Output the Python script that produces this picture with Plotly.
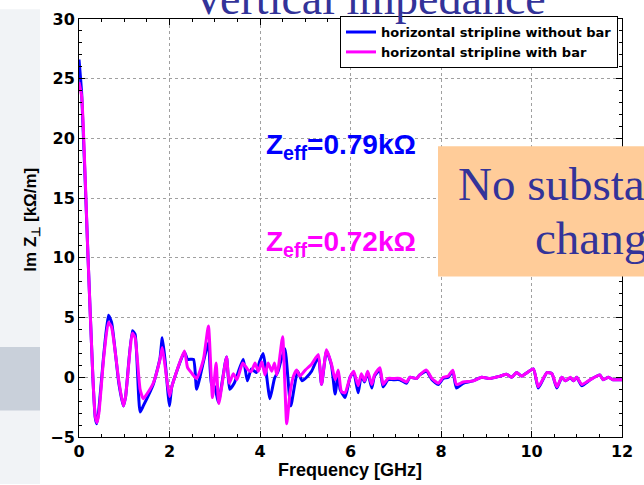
import plotly.graph_objects as go

# ---- data ----
f_without = [0.0, 0.06, 0.2, 0.31, 0.36, 0.39, 0.43, 0.55, 0.65, 0.72, 0.88, 0.98, 1.03, 1.18, 1.24,
             1.35, 1.42, 1.64, 1.79, 1.84, 1.9, 2.0, 2.05, 2.33, 2.4, 2.53, 2.6, 2.75, 2.86, 2.93,
             3.0, 3.08, 3.26, 3.33, 3.43, 3.63, 3.72, 3.81, 3.92, 3.99, 4.07, 4.13, 4.22, 4.32,
             4.4, 4.45, 4.55, 4.68, 4.83, 4.93, 5.03, 5.14, 5.29, 5.36, 5.47, 5.58, 5.66, 5.73,
             5.77, 5.88, 5.99, 6.07, 6.17, 6.24, 6.31, 6.38, 6.47, 6.53, 6.65, 6.72, 6.83, 6.94,
             7.09, 7.24, 7.31, 7.46, 7.53, 7.68, 7.8, 7.94, 8.05, 8.16, 8.26, 8.34, 8.49, 8.71,
             8.9, 9.09, 9.31, 9.45, 9.56, 9.67, 9.78, 10.04, 10.15, 10.34, 10.45, 10.56, 10.67,
             10.75, 10.86, 10.93, 11.0, 11.11, 11.3, 11.51, 11.58, 11.7, 11.8, 12.0]
z_without = [26.6, 23.7, 10.0, -0.3, -3.4, -3.9, -3.0, 2.0, 5.2, 4.6, -0.5, -2.4, -1.6, 3.9, 3.6,
             -2.9, -2.4, -0.6, 1.6, 3.3, 1.5, -2.4, -0.8, 2.1, 1.5, 1.5, -1.0, 1.3, 2.9, -0.6,
             -0.8, -2.1, 1.7, -1.0, -0.5, 1.5, -0.3, 0.7, 0.4, 1.3, 2.0, 0.6, -1.8, -0.1,
             0.5, 1.2, 2.4, -2.4, 0.5, -0.3, 0.0, 0.5, 1.7, -0.6, 2.2, 1.0, -1.4, 0.4,
             -1.0, -1.7, 0.0, 0.4, -1.3, 0.2, -0.4, 0.4, -0.9, 0.1, 0.6, -0.8, -0.2, -0.2,
             -0.2, -0.5, 0.0, -0.1, 0.2, 0.5, -0.2, -0.6, -0.1, 0.0, 0.5, -0.9, -0.5, -0.3,
             0.0, -0.1, 0.1, 0.25, 0.0, 0.4, 0.1, 0.7, -0.9, 0.4, 0.3, -0.9, 0.0,
             -0.3, -0.05, -0.3, 0.0, -0.7, -0.2, 0.2, -0.2, 0.0, -0.2, -0.2]

f_with = [0.0, 0.06, 0.2, 0.31, 0.36, 0.4, 0.44, 0.55, 0.65, 0.72, 0.88, 0.98, 1.03, 1.18, 1.24,
          1.35, 1.42, 1.5, 1.64, 1.79, 1.84, 1.9, 2.0, 2.05, 2.33, 2.4, 2.5, 2.6, 2.75, 2.86,
          2.95, 3.03, 3.09, 3.26, 3.32, 3.41, 3.49, 3.62, 3.74, 3.81, 3.89, 3.96, 4.04, 4.11,
          4.18, 4.26, 4.32, 4.37, 4.41, 4.5, 4.59, 4.66, 4.74, 4.81, 4.88, 5.0, 5.14, 5.29,
          5.36, 5.47, 5.58, 5.66, 5.73, 5.8, 5.88, 5.99, 6.07, 6.17, 6.24, 6.31, 6.38, 6.47,
          6.53, 6.65, 6.72, 6.83, 6.94, 7.09, 7.24, 7.31, 7.46, 7.53, 7.68, 7.8, 7.94, 8.05,
          8.16, 8.26, 8.34, 8.49, 8.71, 8.9, 9.09, 9.31, 9.45, 9.56, 9.67, 9.78, 10.04, 10.15,
          10.34, 10.45, 10.56, 10.67, 10.75, 10.86, 10.93, 11.0, 11.11, 11.3, 11.51, 11.58,
          11.7, 11.8, 12.0]
z_with = [24.7, 23.5, 10.0, -0.3, -3.3, -3.8, -3.0, 1.8, 4.6, 4.2, -0.3, -2.4, -1.6, 3.7, 3.3,
          -1.0, -1.8, -1.4, -0.5, 1.5, 2.5, 1.0, -1.6, -0.8, 2.2, 0.8, 0.3, -0.1, 1.5, 4.3,
          -1.7, 1.2, -2.2, 1.7, -0.5, 0.3, -0.2, 1.2, 0.6, 0.5, 1.2, 0.5, 1.3, 0.2,
          1.2, 0.5, 1.2, 0.2, 0.9, 3.4, -3.9, -1.4, 0.1, 0.6, 0.1, 0.6, 1.1, 1.9,
          -0.6, 2.3, 1.1, -0.2, 0.6, -1.2, -1.3, 0.0, 0.5, -0.7, 0.3, -0.3, 0.5, -0.6,
          0.2, 0.8, -0.6, -0.1, -0.1, -0.1, -0.4, 0.0, -0.1, 0.2, 0.6, -0.1, -0.5, 0.0,
          0.1, 0.6, -0.6, -0.4, -0.3, 0.0, -0.1, 0.1, 0.25, 0.0, 0.4, 0.1, 0.7, -0.8,
          0.4, 0.3, -0.8, 0.0, -0.3, 0.0, -0.3, 0.0, -0.6, -0.2, 0.2, -0.2,
          0.0, -0.2, -0.2]

series_names = ["horizontal stripline without bar", "horizontal stripline with bar"]
zeff_labels = ["Z<sub>eff</sub>=0.79kΩ", "Z<sub>eff</sub>=0.72kΩ"]
x_ticks = [0, 2, 4, 6, 8, 10, 12]
y_ticks = [-5, 0, 5, 10, 15, 20, 25, 30]

W, H = 644, 485
L, R, T, B = 79, 22, 10, 48
PW, PH = W - L - R, H - T - B


def px(x):
    return (x - L) / PW


def py(y):
    return (H - B - y) / PH


BLUE = "#0000ff"
MAG = "#ff00ff"
SANS = "Liberation Sans, Arial, sans-serif"
WIDE = "DejaVu Sans, Liberation Sans, sans-serif"
SERIF = "Liberation Serif, Times New Roman, serif"

fig = go.Figure()
fig.add_trace(go.Scatter(x=f_without, y=z_without, mode="lines", name=series_names[0],
                         line=dict(color=BLUE, width=3, shape="spline", smoothing=0.5)))
fig.add_trace(go.Scatter(x=f_with, y=z_with, mode="lines", name=series_names[1],
                         line=dict(color=MAG, width=3, shape="spline", smoothing=0.5)))

axis_common = dict(
    showline=True, linecolor="black", linewidth=1, mirror="ticks",
    ticks="inside", ticklen=6, tickcolor="black",
    showgrid=True, gridcolor="#a0a0a0", griddash="dot", gridwidth=1,
    zeroline=False,
    tickfont=dict(family=WIDE, size=16, color="black", weight="bold"),
)

fig.update_xaxes(range=[0, 12], tickvals=x_ticks, **axis_common,
                 minor=dict(ticks="inside", ticklen=3, dtick=0.5, tickcolor="black", showgrid=False))
fig.update_yaxes(range=[-5, 30], tickvals=y_ticks, **axis_common,
                 minor=dict(ticks="inside", ticklen=3, dtick=1, tickcolor="black", showgrid=False))

shapes = [
    # faint slide background on the left
    dict(type="rect", xref="paper", yref="paper", x0=px(0), x1=px(40), y0=py(485), y1=py(0),
         fillcolor="#f1f3f6", line=dict(width=0), layer="below"),
    dict(type="rect", xref="paper", yref="paper", x0=px(0), x1=px(40), y0=py(410), y1=py(345),
         fillcolor="#c9d0da", line=dict(width=0), layer="below"),
    # orange callout box
    dict(type="rect", xref="paper", yref="paper", x0=px(438), x1=px(700), y0=py(273), y1=py(140),
         fillcolor="#ffcc99", line=dict(width=0), layer="above"),
]

annotations = [
    dict(text="Vertical impedance", xref="paper", yref="paper", x=px(369), y=py(17),
         xanchor="center", yanchor="bottom", showarrow=False,
         font=dict(family=SERIF, size=46, color="#333399")),
    dict(text=zeff_labels[0], xref="x", yref="y", x=(264 - L) / PW * 12, y=19.3,
         xanchor="left", yanchor="middle", showarrow=False,
         font=dict(family=SANS, size=28, color=BLUE, weight="bold")),
    dict(text=zeff_labels[1], xref="x", yref="y", x=(264 - L) / PW * 12, y=11.2,
         xanchor="left", yanchor="middle", showarrow=False,
         font=dict(family=SANS, size=28, color=MAG, weight="bold")),
    dict(text="No substantial", xref="paper", yref="paper", x=px(456), y=py(179),
         xanchor="left", yanchor="middle", showarrow=False,
         font=dict(family=SERIF, size=47, color="#333399")),
    dict(text="change", xref="paper", yref="paper", x=px(533), y=py(234),
         xanchor="left", yanchor="middle", showarrow=False,
         font=dict(family=SERIF, size=47, color="#333399")),
    dict(text="Frequency [GHz]", xref="paper", yref="paper", x=px(350), y=py(471),
         xanchor="center", yanchor="middle", showarrow=False,
         font=dict(family=SANS, size=18, color="black", weight="bold")),
    dict(text="Im Z<sub>⊥</sub> [kΩ/m]", xref="paper", yref="paper", x=px(32), y=py(215),
         xanchor="center", yanchor="middle", showarrow=False, textangle=-90,
         font=dict(family=SANS, size=17, color="black", weight="bold")),
]

fig.update_layout(
    width=W, height=H,
    margin=dict(l=L, r=R, t=T, b=B),
    paper_bgcolor="white", plot_bgcolor="white",
    showlegend=True,
    legend=dict(x=px(618), y=py(7), xanchor="right", yanchor="top",
                bgcolor="white", bordercolor="black", borderwidth=1,
                font=dict(family=WIDE, size=13, color="black", weight="bold"),
                tracegroupgap=0, itemwidth=30),
    shapes=shapes,
    annotations=annotations,
)

fig.write_html("out.html")
